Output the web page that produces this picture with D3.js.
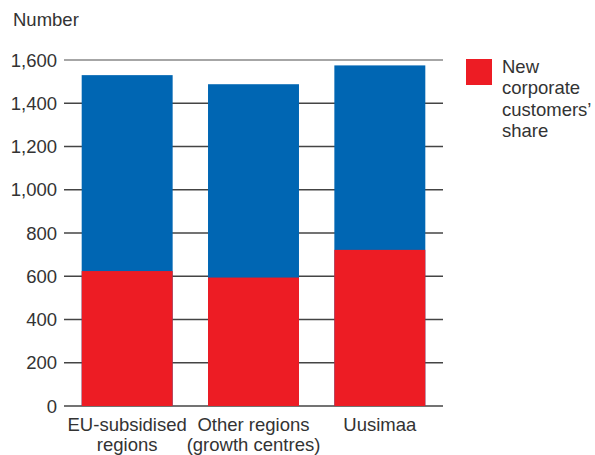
<!DOCTYPE html>
<html><head><meta charset="utf-8">
<script src="https://cdn.jsdelivr.net/npm/d3@7"></script>
<style>body{margin:0;background:#fff}svg{display:block}text{font-family:"Liberation Sans",Arial,sans-serif;fill:#333}</style>
</head><body>
<svg id="c" width="595" height="455"></svg>
<script>
const categories = [["EU-subsidised","regions"],["Other regions","(growth centres)"],["Uusimaa"]];
const totalValues = [1530, 1488, 1575];
const newCorporateShare = [624, 594, 722];
const yTicks = [0,200,400,600,800,1000,1200,1400,1600];
const legendLabel = ["New","corporate","customers’","share"];

const FS = 18.5;
const svg = d3.select("#c");
const x = d3.scaleBand().domain(d3.range(categories.length)).range([64,443]).paddingInner(0.28).paddingOuter(0.14);
const y = d3.scaleLinear().domain([0,1600]).range([406,60]);

svg.append("g").selectAll("line").data(yTicks).join("line")
  .attr("x1",64).attr("x2",443).attr("y1",d=>y(d)).attr("y2",d=>y(d))
  .attr("stroke",d=>d===1600?"#888":"#444").attr("stroke-width",1.5);

svg.append("g").selectAll("text").data(yTicks).join("text")
  .attr("x",57).attr("y",d=>y(d)+6.5).attr("text-anchor","end").attr("font-size",FS)
  .text(d=>d3.format(",")(d));

svg.append("text").attr("x",13).attr("y",26).attr("font-size",FS).text("Number");

const idx = d3.range(categories.length);
svg.append("g").selectAll("rect").data(idx).join("rect")
  .attr("x",i=>x(i)).attr("width",x.bandwidth())
  .attr("y",i=>y(totalValues[i])).attr("height",i=>y(0)-y(totalValues[i]))
  .attr("fill","#0066b3");
svg.append("g").selectAll("rect").data(idx).join("rect")
  .attr("x",i=>x(i)).attr("width",x.bandwidth())
  .attr("y",i=>y(newCorporateShare[i])).attr("height",i=>y(0)-y(newCorporateShare[i]))
  .attr("fill","#ed1c24");

const xl = svg.append("g").selectAll("text").data(idx).join("text")
  .attr("x",i=>x(i)+x.bandwidth()/2).attr("y",431).attr("text-anchor","middle").attr("font-size",FS);
xl.selectAll("tspan").data(i=>categories[i].map(t=>({t,cx:x(i)+x.bandwidth()/2}))).join("tspan")
  .attr("x",d=>d.cx).attr("dy",(d,j)=>j===0?0:19.5).text(d=>d.t);

svg.append("rect").attr("x",466).attr("y",59).attr("width",26).attr("height",26).attr("fill","#ed1c24");
svg.append("text").attr("x",502).attr("y",73).attr("font-size",FS)
  .selectAll("tspan").data(legendLabel).join("tspan").attr("x",502).attr("dy",(d,j)=>j===0?0:21.3).text(d=>d);
</script>
</body></html>
